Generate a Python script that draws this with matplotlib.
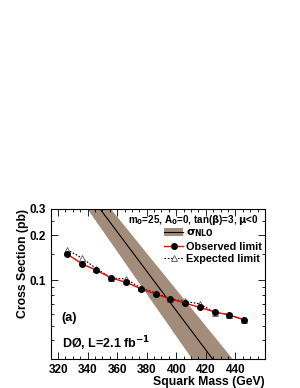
import matplotlib
matplotlib.use("Agg")
import matplotlib.pyplot as plt
from matplotlib.patches import Patch
from matplotlib.lines import Line2D
from matplotlib.ticker import FixedLocator, NullFormatter, MultipleLocator

plt.rcParams['font.family'] = ['Liberation Sans', 'DejaVu Sans']
plt.rcParams['font.weight'] = 'bold'
plt.rcParams['mathtext.default'] = 'bf'

# squark mass points (GeV)
mass = [326, 336, 346, 356, 366, 376, 386, 396, 406, 416, 426, 436, 446]
observed = [0.150, 0.129, 0.1166, 0.1038, 0.0970, 0.0880, 0.0811, 0.0751,
            0.0706, 0.0660, 0.0617, 0.0587, 0.0546]
expected = [0.1605, 0.1412, 0.1197, 0.1038, 0.1022, 0.0890, 0.0824, 0.0754,
            0.0724, 0.0698, 0.0611, 0.0592, 0.0546]

# NLO theory cross section and its uncertainty band
theo_mass = [320, 340, 360, 380, 400, 420, 440, 460]
theo_nlo = [0.706, 0.3855, 0.2107, 0.1151, 0.0629, 0.0344, 0.01878, 0.01026]
theo_up = [0.808, 0.4624, 0.2647, 0.1514, 0.0866, 0.0496, 0.02837, 0.01623]
theo_down = [0.569, 0.2971, 0.1552, 0.0810, 0.0423, 0.0221, 0.01155, 0.00603]

band_color = '#a38c7a'

fig = plt.figure(figsize=(3.0, 3.88), dpi=100)
ax = fig.add_axes([0.169, 0.075, 0.714, 0.387])

ax.fill_between(theo_mass, theo_down, theo_up, color=band_color, lw=0)
ax.plot(theo_mass, theo_nlo, color='black', lw=0.8)

ax.plot(mass, expected, ls=(0, (1.5, 1.5)), color='black', lw=0.8,
        marker='^', mfc='white', mec='#555555', ms=4, mew=0.6)
ax.plot(mass, observed, color='red', lw=1.0,
        marker='o', mfc='black', mec='black', ms=4)

ax.set_yscale('log')
ax.set_xlim(315, 460)
ax.set_ylim(0.03, 0.3)

ax.yaxis.set_major_locator(FixedLocator([0.1, 0.2, 0.3]))
ax.yaxis.set_major_formatter(plt.FixedFormatter(['0.1', '0.2', '0.3']))
ax.yaxis.set_minor_locator(FixedLocator([0.03, 0.04, 0.05, 0.06, 0.07, 0.08, 0.09,
                                         0.15, 0.25]))
ax.yaxis.set_minor_formatter(NullFormatter())
ax.xaxis.set_minor_locator(MultipleLocator(5))
ax.set_xticks([320, 340, 360, 380, 400, 420, 440])

ax.tick_params(which='both', direction='in', top=True, right=True, labelsize=8.5, width=0.6)
ax.tick_params(which='major', length=5)
ax.tick_params(which='minor', length=2.5)
for s in ax.spines.values():
    s.set_linewidth(0.8)

ax.set_xlabel('Squark Mass (GeV)', fontsize=8.8, fontweight='bold', ha='right', x=1.0, labelpad=0)
ax.set_ylabel('Cross Section (pb)', fontsize=8.8, fontweight='bold', ha='right', y=1.0, labelpad=0)

ax.text(0.361, 0.922, r'm$_0$=25, A$_0$=0, tan($\beta$)=3, $\mu$<0', transform=ax.transAxes,
        fontsize=7.1, fontweight='bold', ha='left', va='center')

handles = [(Patch(facecolor=band_color, edgecolor='none'), Line2D([], [], color='black', lw=0.8)),
           Line2D([], [], color='red', lw=1.0, marker='o', mfc='black', mec='black', ms=4),
           Line2D([], [], color='black', lw=0.8, ls=(0, (1.5, 1.5)), marker='^',
                  mfc='white', mec='#555555', ms=4, mew=0.6)]
labels = [r'$\sigma_{\mathbf{NLO}}$', 'Observed limit', 'Expected limit']
ax.legend(handles, labels, loc='upper left', bbox_to_anchor=(0.53, 0.875), frameon=False,
          fontsize=7.8, handlelength=1.75, handletextpad=0.3, labelspacing=0.22,
          borderpad=0, borderaxespad=0)

ax.text(0.051, 0.275, '(a)', transform=ax.transAxes, fontsize=9, fontweight='bold', va='center')
ax.text(0.051, 0.1, r'DØ, L=2.1 fb$^{\mathbf{-1}}$', transform=ax.transAxes, fontsize=9,
        fontweight='bold', va='center')

fig.savefig('out.png', dpi=100)
